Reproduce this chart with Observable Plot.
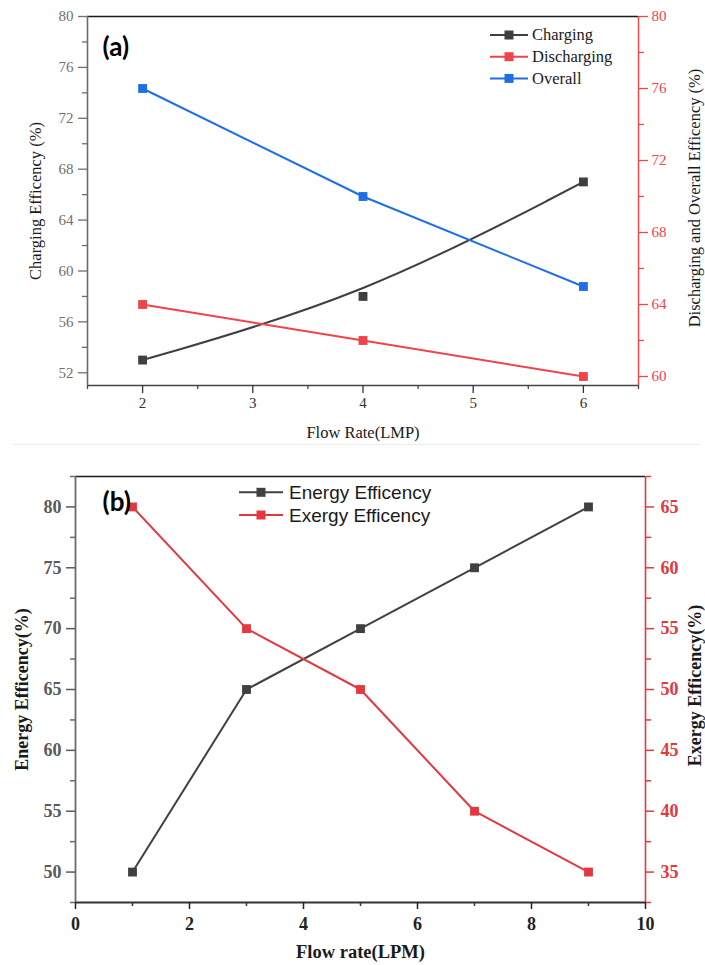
<!DOCTYPE html>
<html><head><meta charset="utf-8">
<script src="https://cdn.jsdelivr.net/npm/d3@7"></script>
<script src="https://cdn.jsdelivr.net/npm/@observablehq/plot@0.6"></script>
<style>
html,body{margin:0;padding:0;background:#fff;}
#fig{position:relative;width:705px;height:965px;background:#fff;overflow:hidden;}
#fig svg{position:absolute;left:0;}
#sep{position:absolute;left:13px;right:5px;top:444px;height:1px;background:#ececec;}
</style></head>
<body><div id="fig"><div id="sep"></div></div>
<script>
// ---------- Panel (a) data ----------
const flowA = [2, 4, 6];
const chargingA = [53, 58, 67];
const dischargingA = [64, 62, 60];
const overallA = [76, 70, 65];
const seriesA = ["Charging", "Discharging", "Overall"];
const xTicksA = [2, 3, 4, 5, 6];
const xMinorA = [1.5, 2.5, 3.5, 4.5, 5.5, 6.5];
const yTicksA = [52, 56, 60, 64, 68, 72, 76, 80];
const yMinorA = [54, 58, 62, 66, 70, 74, 78];
const y2TicksA = [60, 64, 68, 72, 76, 80];
const y2MinorA = [62, 66, 70, 74, 78];

// ---------- Panel (b) data ----------
const flowB = [1, 3, 5, 7, 9];
const energyB = [50, 65, 70, 75, 80];
const exergyB = [65, 55, 50, 40, 35];
const seriesB = ["Energy Efficency", "Exergy Efficency"];
const xTicksB = [0, 2, 4, 6, 8, 10];
const xMinorB = [1, 3, 5, 7, 9];
const yTicksB = [50, 55, 60, 65, 70, 75, 80];
const yMinorB = [47.5, 52.5, 57.5, 62.5, 67.5, 72.5, 77.5, 82.5];
const y2TicksB = [35, 40, 45, 50, 55, 60, 65];
const y2MinorB = [32.5, 37.5, 42.5, 47.5, 52.5, 57.5, 62.5, 67.5];

// ---------- styles ----------
const grayA = "#3f3f3f", redA = "#f0434a", blueA = "#1e6fe6";
const grayB = "#404040", redB = "#e3383f";
const serif = "'Liberation Serif', 'Times New Roman', serif";
const sans = "'Liberation Sans', Arial, sans-serif";

const fig = document.getElementById("fig");

// ===== Panel (a) =====
const domXA = [1.5, 6.5], domYA = [51, 80], domY2A = [59.5, 80];
const kA = (domYA[1] - domYA[0]) / (domY2A[1] - domY2A[0]);
const toLeftA = v => domYA[0] + (v - domY2A[0]) * kA;
const fromLeftA = v => domY2A[0] + (v - domYA[0]) / kA;
const rowsA = flowA.map((x, i) => ({
  x, charging: chargingA[i], discharging: toLeftA(dischargingA[i]), overall: toLeftA(overallA[i])
}));

const plotA = Plot.plot({
  width: 705, height: 440,
  marginLeft: 87, marginRight: 67, marginTop: 16, marginBottom: 55,
  x: {domain: domXA}, y: {domain: domYA},
  style: {fontFamily: serif, fontSize: "15px", background: "transparent", overflow: "visible"},
  marks: [
    Plot.ruleY([domYA[1]], {stroke: "#1a1a1a", strokeWidth: 1.4}),
    Plot.ruleY([domYA[0]], {stroke: "#444", strokeWidth: 1.6}),
    Plot.ruleX([domXA[0]], {stroke: "#6b6b6b", strokeWidth: 1.6}),
    Plot.ruleX([domXA[1]], {stroke: redA, strokeWidth: 1.4}),
    Plot.axisX(xMinorA, {anchor: "bottom", tickSize: 4, tickFormat: () => "", label: null, color: "#444", strokeWidth: 1.3}),
    Plot.axisX(xTicksA, {anchor: "bottom", tickSize: 8, tickPadding: 4, label: null, color: "#333", strokeWidth: 1.3}),
    Plot.axisY(yMinorA, {anchor: "left", tickSize: 5, tickFormat: () => "", label: null, color: "#6b6b6b", strokeWidth: 1.3}),
    Plot.axisY(yTicksA, {anchor: "left", tickSize: 9, tickPadding: 5, label: null, color: "#707070", strokeWidth: 1.3}),
    Plot.axisY(y2MinorA.map(toLeftA), {anchor: "right", tickSize: 5, tickFormat: () => "", label: null, color: redA, strokeWidth: 1.3}),
    Plot.axisY(y2TicksA.map(toLeftA), {anchor: "right", tickSize: 9, tickPadding: 4, label: null, color: redA, strokeWidth: 1.3,
      tickFormat: d => String(Math.round(fromLeftA(d)))}),
    Plot.line(rowsA, {x: "x", y: "charging", stroke: grayA, strokeWidth: 2, curve: "basis"}),
    Plot.line(rowsA, {x: "x", y: "discharging", stroke: redA, strokeWidth: 2}),
    Plot.line(rowsA, {x: "x", y: "overall", stroke: blueA, strokeWidth: 2}),
    Plot.dot(rowsA, {x: "x", y: "charging", symbol: "square", r: 5, fill: grayA, stroke: "none"}),
    Plot.dot(rowsA, {x: "x", y: "discharging", symbol: "square", r: 5, fill: redA, stroke: "none"}),
    Plot.dot(rowsA, {x: "x", y: "overall", symbol: "square", r: 5, fill: blueA, stroke: "none"}),
    Plot.text(["Charging Efficency (%)"], {text: d => d, frameAnchor: "left", dx: -52, rotate: -90,
      textAnchor: "middle", lineAnchor: "middle", fontSize: 16.5, fill: "#1a1a1a"}),
    Plot.text(["Discharging and Overall Efficency (%)"], {text: d => d, frameAnchor: "right", dx: 56, dy: -3, rotate: -90,
      textAnchor: "middle", lineAnchor: "middle", fontSize: 16.5, fill: "#1a1a1a"}),
    Plot.text(["Flow Rate(LMP)"], {text: d => d, frameAnchor: "bottom", dy: 47,
      textAnchor: "middle", lineAnchor: "middle", fontSize: 16.5, fill: "#1a1a1a"}),
    Plot.text(["(a)"], {text: d => d, frameAnchor: "top-left", dx: 15, dy: 31,
      textAnchor: "start", lineAnchor: "middle", fontSize: 26, fontWeight: "bold", fontFamily: "Lato, 'Open Sans', sans-serif", fill: "#000"})
  ]
});
plotA.style.top = "0px";
fig.appendChild(plotA);

// legend (a)
{
  const colors = [grayA, redA, blueA];
  const g = d3.select(plotA).append("g").attr("class", "legend-a").attr("text-anchor", "start");
  seriesA.forEach((name, i) => {
    const y = 35 + i * 21.7;
    g.append("line").attr("x1", 490).attr("x2", 528).attr("y1", y).attr("y2", y)
      .attr("stroke", colors[i]).attr("stroke-width", 2);
    g.append("rect").attr("x", 504.5).attr("y", y - 4.5).attr("width", 9).attr("height", 9).attr("fill", colors[i]);
    g.append("text").attr("x", 532).attr("y", y).attr("dy", "0.33em").attr("text-anchor", "start")
      .attr("font-family", serif).attr("font-size", 16.5).attr("fill", "#1a1a1a").text(name);
  });
}

// ===== Panel (b) =====
const domXB = [0, 10], domYB = [47.5, 82.5], domY2B = [32.5, 67.5];
const kB = (domYB[1] - domYB[0]) / (domY2B[1] - domY2B[0]);
const toLeftB = v => domYB[0] + (v - domY2B[0]) * kB;
const fromLeftB = v => domY2B[0] + (v - domYB[0]) / kB;
const rowsB = flowB.map((x, i) => ({x, energy: energyB[i], exergy: toLeftB(exergyB[i])}));

const plotB = Plot.plot({
  width: 705, height: 525,
  marginLeft: 75, marginRight: 60, marginTop: 36, marginBottom: 63,
  x: {domain: domXB}, y: {domain: domYB},
  style: {fontFamily: serif, fontSize: "18px", fontWeight: "bold", background: "transparent", overflow: "visible"},
  marks: [
    Plot.ruleY([domYB[1]], {stroke: "#1a1a1a", strokeWidth: 1.4}),
    Plot.ruleY([domYB[0]], {stroke: "#333", strokeWidth: 1.8}),
    Plot.ruleX([domXB[0]], {stroke: "#6b6b6b", strokeWidth: 1.8}),
    Plot.ruleX([domXB[1]], {stroke: redB, strokeWidth: 1.6}),
    Plot.axisX(xMinorB, {anchor: "bottom", tickSize: 4, tickFormat: () => "", label: null, color: "#333", strokeWidth: 1.5}),
    Plot.axisX(xTicksB, {anchor: "bottom", tickSize: 7, tickPadding: 8, label: null, color: "#222", strokeWidth: 1.5}),
    Plot.axisY(yMinorB, {anchor: "left", tickSize: 5, tickFormat: () => "", label: null, color: "#6b6b6b", strokeWidth: 1.5}),
    Plot.axisY(yTicksB, {anchor: "left", tickSize: 9, tickPadding: 5, label: null, color: "#5a5a5a", strokeWidth: 1.5}),
    Plot.axisY(y2MinorB.map(toLeftB), {anchor: "right", tickSize: 5, tickFormat: () => "", label: null, color: redB, strokeWidth: 1.5}),
    Plot.axisY(y2TicksB.map(toLeftB), {anchor: "right", tickSize: 8, tickPadding: 7, label: null, color: redB, strokeWidth: 1.5,
      tickFormat: d => String(Math.round(fromLeftB(d)))}),
    Plot.line(rowsB, {x: "x", y: "energy", stroke: grayB, strokeWidth: 2}),
    Plot.line(rowsB, {x: "x", y: "exergy", stroke: redB, strokeWidth: 2}),
    Plot.dot(rowsB, {x: "x", y: "energy", symbol: "square", r: 5, fill: grayB, stroke: "none"}),
    Plot.dot(rowsB, {x: "x", y: "exergy", symbol: "square", r: 5, fill: redB, stroke: "none"}),
    Plot.text(["Energy Efficency(%)"], {text: d => d, frameAnchor: "left", dx: -53, rotate: -90,
      textAnchor: "middle", lineAnchor: "middle", fontSize: 18, fill: "#1a1a1a"}),
    Plot.text(["Exergy Efficency(%)"], {text: d => d, frameAnchor: "right", dx: 50, dy: -4, rotate: -90,
      textAnchor: "middle", lineAnchor: "middle", fontSize: 18, fill: "#1a1a1a"}),
    Plot.text(["Flow rate(LPM)"], {text: d => d, frameAnchor: "bottom", dy: 50,
      textAnchor: "middle", lineAnchor: "middle", fontSize: 18.5, fill: "#1a1a1a"}),
    Plot.text(["(b)"], {text: d => d, frameAnchor: "top-left", dx: 27, dy: 26,
      textAnchor: "start", lineAnchor: "middle", fontSize: 26, fontWeight: "bold", fontFamily: "Lato, 'Open Sans', sans-serif", fill: "#000"})
  ]
});
plotB.style.top = "440px";
fig.appendChild(plotB);

// legend (b)
{
  const colors = [grayB, redB];
  const g = d3.select(plotB).append("g").attr("class", "legend-b").attr("text-anchor", "start");
  seriesB.forEach((name, i) => {
    const y = 52.3 + i * 22.7;
    g.append("line").attr("x1", 239).attr("x2", 283).attr("y1", y).attr("y2", y)
      .attr("stroke", colors[i]).attr("stroke-width", 2);
    g.append("rect").attr("x", 256.5).attr("y", y - 4.5).attr("width", 9).attr("height", 9).attr("fill", colors[i]);
    g.append("text").attr("x", 289).attr("y", y).attr("dy", "0.35em").attr("text-anchor", "start")
      .attr("font-family", sans).attr("font-weight", "normal").attr("font-size", 19).attr("fill", "#1a1a1a").text(name);
  });
}
</script>
</body></html>
